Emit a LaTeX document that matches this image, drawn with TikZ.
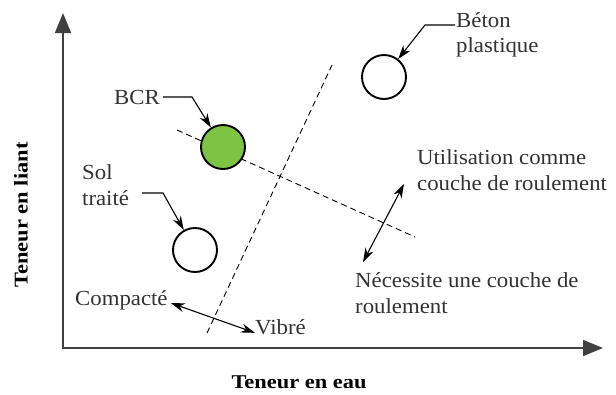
\documentclass[tikz,border=0pt]{standalone}
\usepackage{fontspec}
\setmainfont[FakeStretch=1.06]{Liberation Serif}
\newfontfamily\axisfont[FakeStretch=1.15]{Liberation Serif}
\usetikzlibrary{arrows.meta,positioning}
\definecolor{bcrgreen}{RGB}{126,196,68}
\definecolor{inkgray}{RGB}{50,50,50}
\tikzset{
  lbl/.style={font=\fontsize{21.5}{25.5}\selectfont, text=inkgray, align=left, inner sep=0pt},
  axlbl/.style={font=\axisfont\fontsize{19.5}{22}\selectfont\bfseries, inner sep=0pt},
  dot/.style={circle, draw, line width=1.9pt, minimum size=44pt, inner sep=0pt},
  lead/.style={line width=1.1pt, -{Stealth[length=14pt,width=9pt]}},
  twoway/.style={line width=1.1pt, {Stealth[length=14pt,width=9pt]}-{Stealth[length=14pt,width=9pt]}},
  sep/.style={dashed, line width=0.9pt, dash pattern=on 6pt off 4pt},
  axis/.style={line width=1.6pt, draw=black!75, {Triangle[length=20pt,width=16pt]}-{Triangle[length=20pt,width=16pt]}}
}
\begin{document}
\begin{tikzpicture}[x=1pt,y=-1pt]
\useasboundingbox (0,0) rectangle (616,394);
% axes
\coordinate (ytop) at (63,13);
\coordinate (O) at (63,348);
\coordinate (xend) at (603,348);
\draw[axis] (ytop) -- (O) -- (xend);
\node[axlbl, rotate=90] (yname) at (21,215) {Teneur en liant};
\node[axlbl] (xname) at (299,382) {Teneur en eau};
% limits between domains
\coordinate (v1) at (207,333);
\coordinate (v2) at (332,65);
\draw[sep] (v1) -- (v2);
\coordinate (h1) at (177,130);
\coordinate (h2) at (415,237);
\draw[sep] (h1) -- (h2);
% materials
\node[dot, fill=bcrgreen] (bcr) at (223,147) {};
\node[dot] (beton) at (384,77) {};
\node[dot] (sol) at (195,250) {};
\node[lbl, anchor=east] (bcrtxt) at (160,97) {BCR};
\node[lbl, anchor=west] (betontxt) at (456,35) {Béton\\plastique};
\node[lbl, anchor=west] (soltxt) at (82,185) {Sol\\traité};
\draw[lead] ([xshift=3pt]bcrtxt.east) -- ++(29,0) -- (bcr);
\draw[lead] ([xshift=-1pt]betontxt.north west |- 0,25) -- ++(-30,0) -- (beton);
\draw[lead] (142,193) -- ++(21,0) -- (sol);
% wearing course
\node[lbl, anchor=west] (usage) at (417,170) {Utilisation comme\\couche de roulement};
\node[lbl, anchor=west] (besoin) at (355,293) {Nécessite une couche de\\roulement};
\coordinate (r1) at (363,262);
\coordinate (r2) at (404,184);
\draw[twoway] (r1) -- (r2);
% compaction
\node[lbl, anchor=west] (compacte) at (75,300) {Compacté};
\node[lbl, anchor=west] (vibre) at (255,327) {Vibré};
\draw[twoway] ([xshift=3pt,yshift=-3pt]compacte.east) -- ([yshift=2pt]vibre.south west);
\end{tikzpicture}
\end{document}
